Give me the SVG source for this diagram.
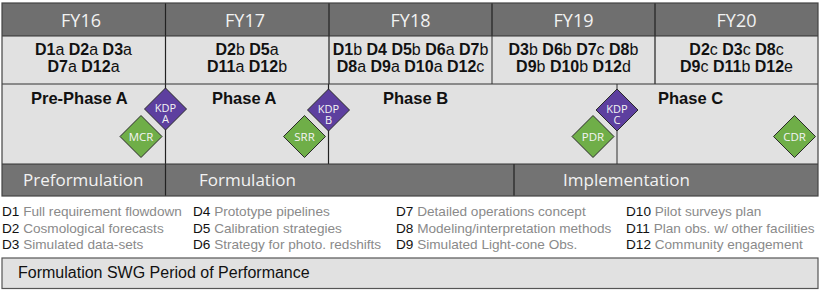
<svg xmlns="http://www.w3.org/2000/svg" width="822" height="290" viewBox="0 0 822 290">
<style>
.hdr{fill:#6f6f6f}
.light{fill:#e1e1e1}
.band{fill:#737373}
.fy{font-family:"Open Sans",sans-serif;font-size:18px;fill:#f2f2f2;text-anchor:middle}
.dl{font-family:"Liberation Sans",Arial,sans-serif;font-size:16px;fill:#111;text-anchor:middle}
.dl .b{font-weight:bold}
.ph{font-family:"Liberation Sans",Arial,sans-serif;font-size:16.5px;font-weight:bold;fill:#111}
.bt{font-family:"Open Sans",sans-serif;font-size:17px;fill:#f2f2f2}
.kdp{fill:#5d3f9f;stroke:#2a2a2a;stroke-width:1}
.rev{fill:#6fae48;stroke:#2a2a2a;stroke-width:1}
.dt{font-family:"Open Sans",sans-serif;font-size:11.5px;fill:#f4f4f4;text-anchor:middle}
.dt2{font-family:"Open Sans",sans-serif;font-size:11px;fill:#f4f4f4;text-anchor:middle}
.lg{font-family:"Liberation Sans",Arial,sans-serif;font-size:13.6px;fill:#8a8a8a}
.lg .k{fill:#111}
.dk{stroke:#222;stroke-width:1.2;fill:none}
.gr{stroke:#6a6a6a;stroke-width:1.5;fill:none}
</style>

<g id="header">
<rect class="hdr" x="2" y="3" width="816" height="33"/>
<g id="fy16"><text class="fy" x="81" y="27">FY16</text></g>
<g id="fy17"><text class="fy" x="245" y="27">FY17</text></g>
<g id="fy18"><text class="fy" x="410.5" y="27">FY18</text></g>
<g id="fy19"><text class="fy" x="573.5" y="27">FY19</text></g>
<g id="fy20"><text class="fy" x="736.5" y="27">FY20</text></g>
<path class="dk" d="M329,3V36M492,3V36M655,3V36"/>
</g>

<g id="deliverables">
<rect class="light" x="2" y="36" width="816" height="48"/>
<g id="d-fy16">
<text class="dl" x="83.5" y="55"><tspan class="b">D1</tspan>a <tspan class="b">D2</tspan>a <tspan class="b">D3</tspan>a</text>
<text class="dl" x="83.5" y="72"><tspan class="b">D7</tspan>a <tspan class="b">D12</tspan>a</text>
</g>
<g id="d-fy17">
<text class="dl" x="247" y="55"><tspan class="b">D2</tspan>b <tspan class="b">D5</tspan>a</text>
<text class="dl" x="247" y="72"><tspan class="b">D11</tspan>a <tspan class="b">D12</tspan>b</text>
</g>
<g id="d-fy18">
<text class="dl" x="410.5" y="55"><tspan class="b">D1</tspan>b <tspan class="b">D4</tspan> <tspan class="b">D5</tspan>b <tspan class="b">D6</tspan>a <tspan class="b">D7</tspan>b</text>
<text class="dl" x="410.5" y="72"><tspan class="b">D8</tspan>a <tspan class="b">D9</tspan>a <tspan class="b">D10</tspan>a <tspan class="b">D12</tspan>c</text>
</g>
<g id="d-fy19">
<text class="dl" x="573.5" y="55"><tspan class="b">D3</tspan>b <tspan class="b">D6</tspan>b <tspan class="b">D7</tspan>c <tspan class="b">D8</tspan>b</text>
<text class="dl" x="573.5" y="72"><tspan class="b">D9</tspan>b <tspan class="b">D10</tspan>b <tspan class="b">D12</tspan>d</text>
</g>
<g id="d-fy20">
<text class="dl" x="736.5" y="55"><tspan class="b">D2</tspan>c <tspan class="b">D3</tspan>c <tspan class="b">D8</tspan>c</text>
<text class="dl" x="736.5" y="72"><tspan class="b">D9</tspan>c <tspan class="b">D11</tspan>b <tspan class="b">D12</tspan>e</text>
</g>
<path class="dk" d="M329,36V84M655,36V84"/>
<path class="gr" d="M492,36V84"/>
</g>

<g id="phases">
<rect class="light" x="2" y="84" width="816" height="80"/>
<g id="pre-phase-a"><text class="ph" x="31" y="104">Pre-Phase A</text></g>
<g id="phase-a"><text class="ph" x="212" y="104">Phase A</text></g>
<g id="phase-b"><text class="ph" x="383" y="104">Phase B</text></g>
<g id="phase-c"><text class="ph" x="658" y="104">Phase C</text></g>
</g>

<g id="lifecycle">
<rect class="band" x="2" y="164" width="816" height="32"/>
<g id="preformulation"><text class="bt" x="23" y="186">Preformulation</text></g>
<g id="formulation"><text class="bt" x="199" y="186">Formulation</text></g>
<g id="implementation"><text class="bt" x="563" y="186">Implementation</text></g>
<path class="dk" d="M514,164V196"/>
</g>

<g id="connectors">
<path class="dk" d="M165.5,3V196"/>
<path class="dk" d="M328.5,84V164"/>
<path class="gr" d="M617,84V164"/>
<path stroke="#333" stroke-width="1" fill="none" d="M2,36H818M2,84H818M2,164H818"/>
<rect x="2" y="3" width="816" height="193" fill="none" stroke="#444" stroke-width="1.2"/>
</g>

<g id="mcr"><polygon class="rev" points="141,115.5 162,136.5 141,157.5 120,136.5"/><text class="dt" x="141" y="141">MCR</text></g>
<g id="kdp-a"><polygon class="kdp" points="165.5,88 186.5,109 165.5,130 144.5,109"/><text class="dt2" x="165.5" y="111.5">KDP<tspan x="165.5" dy="11">A</tspan></text></g>
<g id="srr"><polygon class="rev" points="304.5,115.5 325.5,136.5 304.5,157.5 283.5,136.5"/><text class="dt" x="304.5" y="141">SRR</text></g>
<g id="kdp-b"><polygon class="kdp" points="328.5,89 349.5,110 328.5,131 307.5,110"/><text class="dt2" x="328.5" y="112.5">KDP<tspan x="328.5" dy="11">B</tspan></text></g>
<g id="pdr"><polygon class="rev" points="593,115.5 614,136.5 593,157.5 572,136.5"/><text class="dt" x="593" y="141">PDR</text></g>
<g id="kdp-c"><polygon class="kdp" points="617,89 638,110 617,131 596,110"/><text class="dt2" x="617" y="112.5">KDP<tspan x="617" dy="11">C</tspan></text></g>
<g id="cdr"><polygon class="rev" points="794.5,115.5 815.5,136.5 794.5,157.5 773.5,136.5"/><text class="dt" x="794.5" y="141">CDR</text></g>

<g id="legend">
<text class="lg" x="2" y="216"><tspan class="k">D1</tspan> Full requirement flowdown</text>
<text class="lg" x="2" y="232.5"><tspan class="k">D2</tspan> Cosmological forecasts</text>
<text class="lg" x="2" y="249"><tspan class="k">D3</tspan> Simulated data-sets</text>
<text class="lg" x="193" y="216"><tspan class="k">D4</tspan> Prototype pipelines</text>
<text class="lg" x="193" y="232.5"><tspan class="k">D5</tspan> Calibration strategies</text>
<text class="lg" x="193" y="249"><tspan class="k">D6</tspan> Strategy for photo. redshifts</text>
<text class="lg" x="396" y="216"><tspan class="k">D7</tspan> Detailed operations concept</text>
<text class="lg" x="396" y="232.5"><tspan class="k">D8</tspan> Modeling/interpretation methods</text>
<text class="lg" x="396" y="249"><tspan class="k">D9</tspan> Simulated Light-cone Obs.</text>
<text class="lg" x="626" y="216"><tspan class="k">D10</tspan> Pilot surveys plan</text>
<text class="lg" x="626" y="232.5"><tspan class="k">D11</tspan> Plan obs. w/ other facilities</text>
<text class="lg" x="626" y="249"><tspan class="k">D12</tspan> Community engagement</text>
</g>

<g id="swg-period">
<rect x="2" y="258" width="816" height="30.5" fill="#e1e1e1" stroke="#555" stroke-width="1.2"/>
<text x="18" y="277.5" font-family="'Liberation Sans',Arial,sans-serif" font-size="16" fill="#111">Formulation SWG Period of Performance</text>
</g>
</svg>
